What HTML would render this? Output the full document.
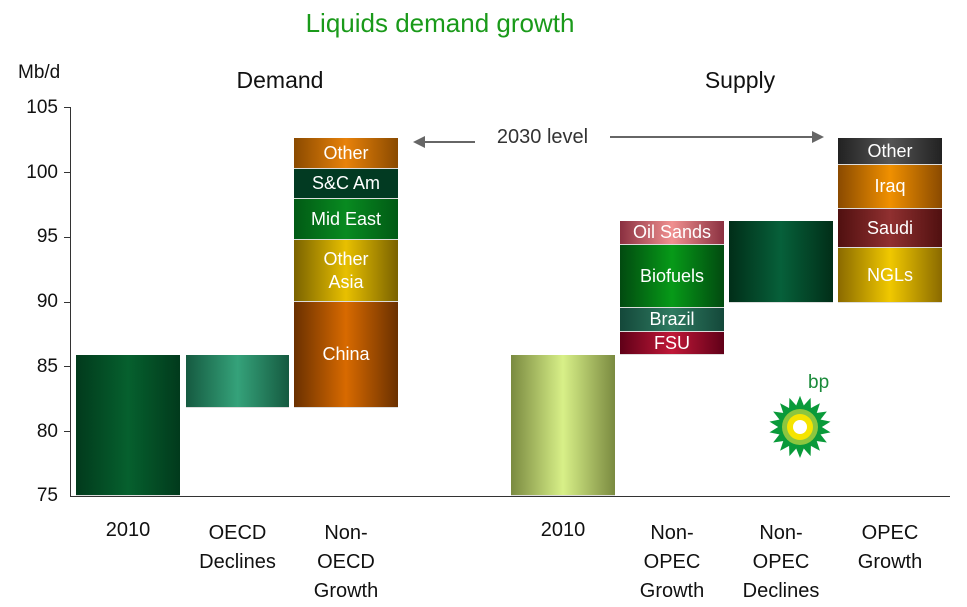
<!DOCTYPE html>
<html><head><style>
body{margin:0;width:967px;height:607px;background:#fff;position:relative;font-family:"Liberation Sans",sans-serif;overflow:hidden}
.a{position:absolute}
.t{position:absolute;font-size:20px;color:#111;text-align:center}
.y{position:absolute;left:0;width:58px;text-align:right;font-size:19px;color:#111}
.b{position:absolute;color:#fff;font-size:18px;text-align:center;display:flex;align-items:center;justify-content:center;box-sizing:border-box;border-bottom:1px solid #ddd;line-height:1.25}
</style></head><body>
<div class="t" style="left:250px;top:8px;width:380px;font-size:26px;color:#1a9a1a">Liquids demand growth</div>
<div class="t" style="left:18px;top:62px;font-size:19px">Mb/d</div>
<div class="t" style="left:200px;top:67px;width:160px;font-size:23px">Demand</div>
<div class="t" style="left:660px;top:67px;width:160px;font-size:23px">Supply</div>
<div class="y" style="top:97px">105</div>
<div class="y" style="top:162px">100</div>
<div class="y" style="top:226px">95</div>
<div class="y" style="top:291px">90</div>
<div class="y" style="top:356px">85</div>
<div class="y" style="top:421px">80</div>
<div class="y" style="top:485px">75</div>
<div class="a" style="left:70px;top:107px;width:1px;height:390px;background:#333"></div>
<div class="a" style="left:70px;top:496px;width:880px;height:1px;background:#333"></div>
<div class="a" style="left:64px;top:107px;width:6px;height:1px;background:#333"></div>
<div class="a" style="left:64px;top:172px;width:6px;height:1px;background:#333"></div>
<div class="a" style="left:64px;top:237px;width:6px;height:1px;background:#333"></div>
<div class="a" style="left:64px;top:302px;width:6px;height:1px;background:#333"></div>
<div class="a" style="left:64px;top:366px;width:6px;height:1px;background:#333"></div>
<div class="a" style="left:64px;top:431px;width:6px;height:1px;background:#333"></div>

<div class="b" style="left:76px;top:355px;width:104px;height:141px;background:linear-gradient(to right,#013a1c,#06602e,#013a1c)"></div>
<div class="b" style="left:186px;top:355px;width:103px;height:53px;background:linear-gradient(to right,#155a40,#35a27a,#155a40)"></div>

<div class="b" style="left:294px;top:138px;width:104px;height:31px;background:linear-gradient(to right,#8a4a00,#e8820a,#8a4a00)">Other</div>
<div class="b" style="left:294px;top:169px;width:104px;height:30px;background:#023a22">S&amp;C Am</div>
<div class="b" style="left:294px;top:199px;width:104px;height:41px;background:linear-gradient(to right,#015a15,#088a20,#015a15)">Mid East</div>
<div class="b" style="left:294px;top:240px;width:104px;height:62px;background:linear-gradient(to right,#7a6200,#e8c000,#7a6200)">Other<br>Asia</div>
<div class="b" style="left:294px;top:302px;width:104px;height:106px;background:linear-gradient(to right,#6a3000,#d86a00,#6a3000)">China</div>

<div class="a" style="left:420px;top:141px;width:55px;height:2px;background:#666"></div>
<div class="a" style="left:413px;top:136px;width:0;height:0;border-top:6px solid transparent;border-bottom:6px solid transparent;border-right:12px solid #666"></div>
<div class="t" style="left:480px;top:126px;width:125px;font-size:20px;color:#333">2030 level</div>
<div class="a" style="left:610px;top:136px;width:205px;height:2px;background:#666"></div>
<div class="a" style="left:812px;top:131px;width:0;height:0;border-top:6px solid transparent;border-bottom:6px solid transparent;border-left:12px solid #666"></div>

<div class="b" style="left:511px;top:355px;width:104px;height:141px;background:linear-gradient(to right,#7a8a40,#d8f088,#7a8a40)"></div>

<div class="b" style="left:620px;top:221px;width:104px;height:24px;background:linear-gradient(to right,#8a3040,#f09090,#8a3040)">Oil Sands</div>
<div class="b" style="left:620px;top:245px;width:104px;height:63px;background:linear-gradient(to right,#014a10,#079a18,#014a10)">Biofuels</div>
<div class="b" style="left:620px;top:308px;width:104px;height:24px;background:linear-gradient(to right,#14483a,#2e7a60,#14483a)">Brazil</div>
<div class="b" style="left:620px;top:332px;width:104px;height:23px;background:linear-gradient(to right,#600018,#c01838,#600018)">FSU</div>

<div class="b" style="left:729px;top:221px;width:104px;height:82px;background:linear-gradient(to right,#012e18,#06603a,#012e18)"></div>

<div class="b" style="left:838px;top:138px;width:104px;height:27px;background:linear-gradient(to right,#222,#555,#222)">Other</div>
<div class="b" style="left:838px;top:165px;width:104px;height:44px;background:linear-gradient(to right,#8a4a00,#f09000,#8a4a00)">Iraq</div>
<div class="b" style="left:838px;top:209px;width:104px;height:39px;background:linear-gradient(to right,#501010,#903030,#501010)">Saudi</div>
<div class="b" style="left:838px;top:248px;width:104px;height:55px;background:linear-gradient(to right,#8a6a00,#f0c800,#8a6a00)">NGLs</div>

<div class="t" style="left:808px;top:372px;font-size:19px;color:#1a8a3a">bp</div>
<svg class="a" style="left:768px;top:395px" width="64" height="64" viewBox="-32 -32 64 64">
<g fill="#0a9a3a"><polygon points="0,-31 5,-18 -5,-18" transform="rotate(0)"/></g>
<g fill="#0a9a3a" id="r">
<polygon points="0,-31 6,-16 -6,-16"/><polygon points="0,-31 6,-16 -6,-16" transform="rotate(20)"/><polygon points="0,-31 6,-16 -6,-16" transform="rotate(40)"/><polygon points="0,-31 6,-16 -6,-16" transform="rotate(60)"/><polygon points="0,-31 6,-16 -6,-16" transform="rotate(80)"/><polygon points="0,-31 6,-16 -6,-16" transform="rotate(100)"/><polygon points="0,-31 6,-16 -6,-16" transform="rotate(120)"/><polygon points="0,-31 6,-16 -6,-16" transform="rotate(140)"/><polygon points="0,-31 6,-16 -6,-16" transform="rotate(160)"/><polygon points="0,-31 6,-16 -6,-16" transform="rotate(180)"/><polygon points="0,-31 6,-16 -6,-16" transform="rotate(200)"/><polygon points="0,-31 6,-16 -6,-16" transform="rotate(220)"/><polygon points="0,-31 6,-16 -6,-16" transform="rotate(240)"/><polygon points="0,-31 6,-16 -6,-16" transform="rotate(260)"/><polygon points="0,-31 6,-16 -6,-16" transform="rotate(280)"/><polygon points="0,-31 6,-16 -6,-16" transform="rotate(300)"/><polygon points="0,-31 6,-16 -6,-16" transform="rotate(320)"/><polygon points="0,-31 6,-16 -6,-16" transform="rotate(340)"/>
</g>
<circle r="18" fill="#8cc63f"/><circle r="13" fill="#f5e400"/><circle r="7" fill="#fff"/>
</svg>

<div class="t" style="left:76px;top:519px;width:104px">2010</div>
<div class="t" style="left:180px;top:519px;width:115px;line-height:29px">OECD<br>Declines</div>
<div class="t" style="left:290px;top:519px;width:112px;line-height:29px">Non-<br>OECD<br>Growth</div>
<div class="t" style="left:511px;top:519px;width:104px">2010</div>
<div class="t" style="left:615px;top:519px;width:114px;line-height:29px">Non-<br>OPEC<br>Growth</div>
<div class="t" style="left:724px;top:519px;width:114px;line-height:29px">Non-<br>OPEC<br>Declines</div>
<div class="t" style="left:834px;top:519px;width:112px;line-height:29px">OPEC<br>Growth</div>
</body></html>
